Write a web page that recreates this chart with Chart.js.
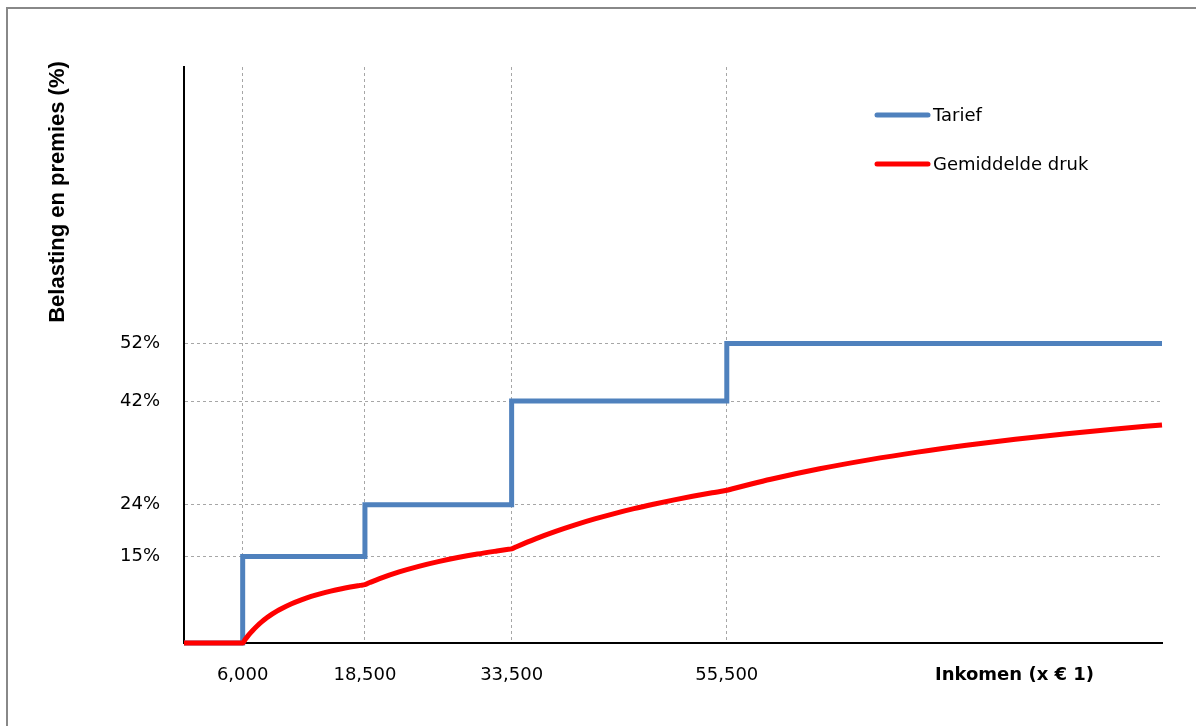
<!DOCTYPE html>
<html>
<head>
<meta charset="utf-8">
<script src="https://cdn.jsdelivr.net/npm/chart.js@4/dist/chart.umd.min.js"></script>
<style>
  html, body { margin: 0; padding: 0; background: #fff; overflow: hidden; }
  canvas { display: block; }
</style>
</head>
<body>
<canvas id="chart" width="1196" height="726"></canvas>
<script>
// Schijven: inkomen waar het tarief begint, en het tarief (%)
const tariefIncome = [0, 6000, 18500, 33500, 55500, 100000];
const tariefRate   = [0, 15, 24, 42, 52, 52];

// Gemiddelde druk (%)
const drukIncome = [0, 6000, 6250, 6500, 6750, 7000, 7500, 8000, 8500, 9000, 9500, 10000,
                    11000, 12000, 13000, 14000, 15000, 16000, 17000, 18000, 18500,
                    19000, 20000, 22000, 24000, 26000, 28000, 30000, 32000, 33000, 33500,
                    34000, 36000, 38000, 40000, 42000, 44000, 46000, 48000, 50000, 52000, 54000, 55500,
                    56000, 58000, 60000, 65000, 70000, 75000, 80000, 85000, 90000, 95000, 100000];
const drukRate   = [0, 0, 0.6, 1.15, 1.67, 2.14, 3.0, 3.75, 4.41, 5.0, 5.53, 6.0,
                    6.82, 7.5, 8.08, 8.57, 9.0, 9.38, 9.71, 10.0, 10.14,
                    10.5, 11.18, 12.34, 13.31, 14.13, 14.84, 15.45, 15.98, 16.23, 16.34,
                    16.72, 18.13, 19.38, 20.51, 21.54, 22.47, 23.32, 24.09, 24.81, 25.47, 26.08, 26.51,
                    26.74, 27.61, 28.43, 30.24, 31.79, 33.14, 34.32, 35.36, 36.28, 37.11, 37.86];

// Tick labels
const xTicks = [6000, 18500, 33500, 55500];
const yTicks = [15, 24, 42, 52];

const seriesNames = ['Tarief', 'Gemiddelde druk'];
const seriesColors = ['#4F81BD', '#FF0000'];

const tickFont = { family: 'DejaVu Sans', size: 18 };

// Draws the frame, legend and axis titles
const overlay = {
  id: 'overlay',
  beforeDraw(chart) {
    const ctx = chart.ctx;
    ctx.save();
    ctx.fillStyle = '#fff';
    ctx.fillRect(0, 0, chart.width, chart.height);
    ctx.restore();
  },
  afterDraw(chart) {
    const ctx = chart.ctx;
    ctx.save();

    // outer frame (only top and left visible)
    ctx.strokeStyle = '#888';
    ctx.lineWidth = 2;
    ctx.beginPath();
    ctx.moveTo(7, 726);
    ctx.lineTo(7, 8);
    ctx.lineTo(1196, 8);
    ctx.stroke();

    // legend
    ctx.lineCap = 'round';
    ctx.lineWidth = 5;
    ctx.font = '18px "DejaVu Sans"';
    ctx.fillStyle = '#000';
    ctx.textBaseline = 'middle';
    ctx.textAlign = 'left';
    seriesNames.forEach((name, i) => {
      const y = 115 + i * 49;
      ctx.strokeStyle = seriesColors[i];
      ctx.beginPath();
      ctx.moveTo(877, y);
      ctx.lineTo(928, y);
      ctx.stroke();
      ctx.fillText(name, 933, y + 1);
    });

    // x axis title
    ctx.font = 'bold 18px "DejaVu Sans"';
    ctx.fillText('Inkomen (x € 1)', 935, 675);

    // y axis title
    ctx.translate(58, 192);
    ctx.rotate(-Math.PI / 2);
    ctx.font = 'bold 22px "Liberation Sans"';
    ctx.textAlign = 'center';
    ctx.fillText('Belasting en premies (%)', 0, 0);

    ctx.restore();
  }
};

new Chart(document.getElementById('chart'), {
  type: 'line',
  data: {
    datasets: [{
      label: seriesNames[0],
      data: tariefIncome.map((x, i) => ({ x: x, y: tariefRate[i] })),
      borderColor: seriesColors[0],
      borderWidth: 5,
      stepped: 'before',
      pointRadius: 0,
      clip: false,
      order: 2
    }, {
      label: seriesNames[1],
      data: drukIncome.map((x, i) => ({ x: x, y: drukRate[i] })),
      borderColor: seriesColors[1],
      borderWidth: 5,
      cubicInterpolationMode: 'monotone',
      pointRadius: 0,
      clip: false,
      order: 1
    }]
  },
  options: {
    responsive: false,
    animation: false,
    devicePixelRatio: 1,
    layout: { padding: { top: 67, right: 34, bottom: 0, left: 0 } },
    plugins: {
      legend: { display: false },
      tooltip: { enabled: false }
    },
    scales: {
      x: {
        type: 'linear',
        min: 0,
        max: 100000,
        afterBuildTicks: scale => { scale.ticks = xTicks.map(v => ({ value: v })); },
        afterFit: scale => { scale.height = 83; },
        ticks: {
          font: tickFont,
          color: '#000',
          padding: 22,
          maxRotation: 0,
          callback: v => v.toLocaleString('en-US')
        },
        grid: {
          color: '#a6a6a6',
          lineWidth: 1,
          drawTicks: false
        },
        border: { display: true, color: '#000', width: 2, dash: [3, 3] }
      },
      y: {
        min: 0,
        max: 100,
        afterBuildTicks: scale => { scale.ticks = yTicks.map(v => ({ value: v })); },
        afterFit: scale => { scale.width = 184; },
        ticks: {
          font: tickFont,
          color: '#000',
          padding: 24,
          callback: v => v + '%'
        },
        grid: {
          color: '#a6a6a6',
          lineWidth: 1,
          drawTicks: false
        },
        border: { display: true, color: '#000', width: 2, dash: [3, 3] }
      }
    }
  },
  plugins: [overlay]
});
</script>
</body>
</html>
